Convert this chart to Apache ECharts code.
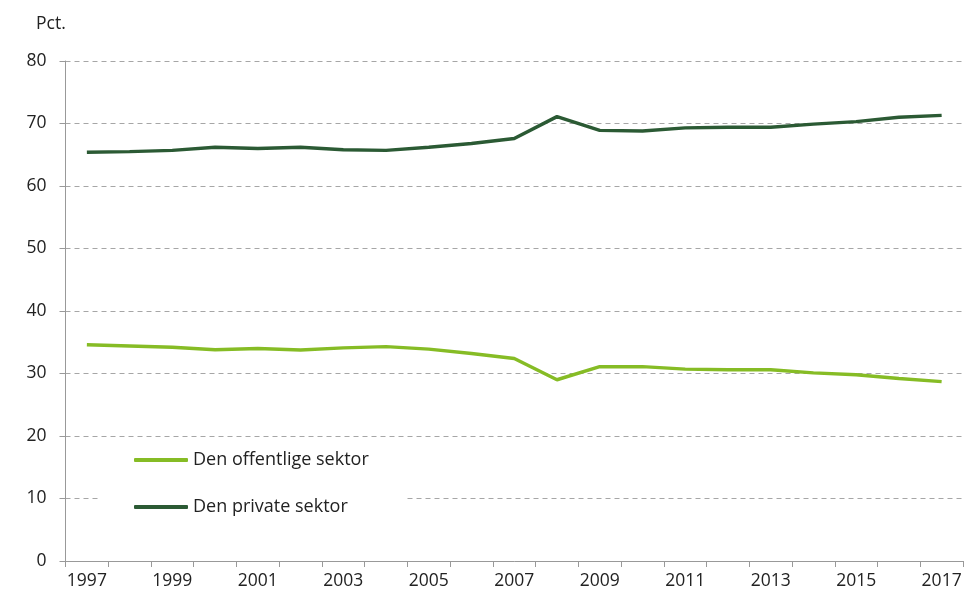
<!DOCTYPE html>
<html>
<head>
<meta charset="utf-8">
<script src="https://cdn.jsdelivr.net/npm/echarts@6/dist/echarts.min.js"></script>
<style>
html,body{margin:0;padding:0;background:#fff;}
#chart{width:968px;height:596px;}
</style>
</head>
<body>
<div id="chart"></div>
<script>
var years = ['1997','1998','1999','2000','2001','2002','2003','2004','2005','2006','2007',
             '2008','2009','2010','2011','2012','2013','2014','2015','2016','2017'];
var offentlig = [34.6,34.4,34.2,33.8,34.0,33.75,34.1,34.3,33.9,33.2,32.4,
                 29.0,31.1,31.1,30.7,30.6,30.6,30.1,29.8,29.2,28.7];
var privat = [65.4,65.5,65.7,66.2,66.0,66.2,65.8,65.7,66.2,66.8,67.6,
              71.1,68.9,68.8,69.3,69.4,69.4,69.9,70.3,71.0,71.3];
var names = ['Den offentlige sektor','Den private sektor'];

var myChart = echarts.init(document.getElementById('chart'));
var font = '"Open Sans", "Noto Sans", sans-serif';
var option = {
    animation:false,
    title:{
        text:'Pct.',
        left:31,
        top:10,
        textStyle:{fontFamily:font,fontSize:17.5,fontWeight:'normal',color:'#222'}
    },
    legend:{
        orient:'vertical',
        left:100,
        top:441,
        padding:[10,36,10,34],
        backgroundColor:'#fff',
        itemWidth:54,
        itemHeight:4,
        itemGap:29,
        icon:'roundRect',
        selectedMode:false,
        data:names,
        textStyle:{fontFamily:font,fontSize:18,color:'#222'}
    },
    grid:{
        left:65.5,
        right:5,
        top:61,
        bottom:35,
        containLabel:false
    },
    xAxis:{
        type:'category',
        data:years,
        boundaryGap:true,
        axisLine:{lineStyle:{color:'#999',width:1}},
        axisTick:{show:true,length:6,interval:0,lineStyle:{color:'#999'}},
        axisLabel:{interval:1,margin:11,fontFamily:font,fontSize:17.5,color:'#222'}
    },
    yAxis:{
        type:'value',
        min:0,
        max:80,
        interval:10,
        axisLine:{show:true,lineStyle:{color:'#999',width:1}},
        axisTick:{show:true,length:6,lineStyle:{color:'#999'}},
        axisLabel:{margin:19,fontFamily:font,fontSize:17.5,color:'#222'},
        splitLine:{lineStyle:{color:'#a6a6a6',type:[5,4],width:1}}
    },
    series:[
        {
            name:names[0],
            type:'line',
            data:offentlig,
            symbol:'none',
            z:3,
            lineStyle:{color:'#86bc25',width:3.5},
            itemStyle:{color:'#86bc25'}
        },
        {
            name:names[1],
            type:'line',
            data:privat,
            symbol:'none',
            z:3,
            lineStyle:{color:'#2b5a34',width:3.5},
            itemStyle:{color:'#2b5a34'}
        }
    ]
};
myChart.setOption(option);
</script>
</body>
</html>
